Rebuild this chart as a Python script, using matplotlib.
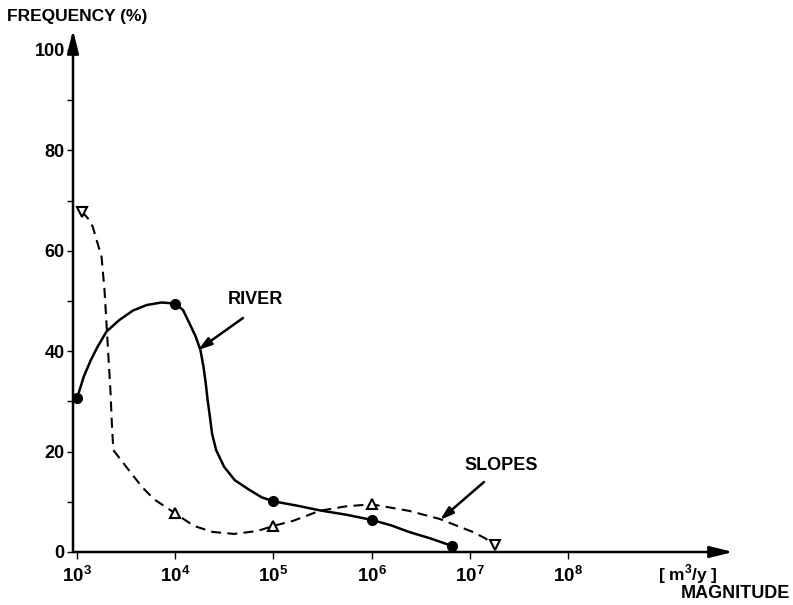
import matplotlib
matplotlib.use("Agg")
import matplotlib.pyplot as plt
import numpy as np

plt.rcParams['font.family'] = ['Liberation Sans', 'DejaVu Sans']
plt.rcParams['mathtext.fontset'] = 'custom'
plt.rcParams['mathtext.rm'] = 'Liberation Sans'
plt.rcParams['mathtext.bf'] = 'Liberation Sans:bold'

# marker values (magnitude m3/y, frequency %)
river_x = [1e3, 1e4, 1e5, 1e6, 6.6e6]
river_y = [30.6, 49.5, 10.1, 6.4, 1.2]
slopes_x = [1.12e3, 1e4, 1e5, 1e6, 1.8e7]
slopes_y = [67.8, 7.7, 5.2, 9.5, 1.4]
slopes_marker = ['v', '^', '^', '^', 'v']

# traced curve paths (log10 magnitude, frequency %)
river_curve_logx = [3.0, 3.068, 3.14, 3.21, 3.30, 3.43, 3.57, 3.71, 3.86, 4.0,
                    4.08, 4.144, 4.209, 4.257, 4.288, 4.311, 4.33, 4.353, 4.375,
                    4.417, 4.497, 4.607, 4.753, 4.88, 5.0, 5.25, 5.47, 5.75,
                    6.0, 6.2, 6.38, 6.6, 6.82]
river_curve_y = [30.6, 34.9, 38.2, 40.9, 43.9, 46.2, 48.1, 49.2, 49.7, 49.5,
                 48.2, 45.6, 42.9, 40.2, 36.9, 33.6, 30.3, 27.0, 23.6,
                 20.3, 17.0, 14.3, 12.4, 10.9, 10.1, 9.2, 8.3, 7.4,
                 6.4, 5.3, 4.0, 2.7, 1.2]
slopes_curve_logx = [3.05, 3.11, 3.16, 3.25, 3.28, 3.30, 3.32, 3.34, 3.355, 3.37,
                     3.50, 3.66, 3.785, 4.0, 4.19, 4.38, 4.6, 4.84, 5.0, 5.2,
                     5.47, 5.74, 6.0, 6.38, 6.69, 7.03, 7.15, 7.26]
slopes_curve_y = [67.8, 66.5, 64.8, 58.8, 52.2, 45.6, 38.9, 32.3, 25.6, 20.3,
                  17.0, 13.0, 10.5, 7.7, 5.2, 4.0, 3.6, 4.2, 5.2, 6.2,
                  8.2, 9.1, 9.5, 8.2, 6.6, 4.0, 2.8, 1.4]

y_major = [0, 20, 40, 60, 80, 100]
y_minor = [10, 30, 50, 70, 90]
x_ticks = [1e3, 1e4, 1e5, 1e6, 1e7, 1e8]
x_labels = [r'$\mathbf{10^{3}}$', r'$\mathbf{10^{4}}$', r'$\mathbf{10^{5}}$',
            r'$\mathbf{10^{6}}$', r'$\mathbf{10^{7}}$', r'$\mathbf{10^{8}}$']

W, H = 793, 605
fig = plt.figure(figsize=(W / 100, H / 100), dpi=100)
ax_l, ax_r, ax_t, ax_b = 73, 733, 30, 552
ax = fig.add_axes([ax_l / W, 1 - ax_b / H, (ax_r - ax_l) / W, (ax_b - ax_t) / H])
ax.set_xscale('log')
ppd = 98.2
ax.set_xlim(10 ** (3 - (77 - ax_l) / ppd), 10 ** (3 + (ax_r - 77) / ppd))
ax.set_ylim(0, (ax_b - ax_t) / 5.02)
for s in ax.spines.values():
    s.set_visible(False)

# axes with arrows
ax.annotate('', xy=(1, 0), xytext=(0, 0), xycoords='axes fraction',
            arrowprops=dict(arrowstyle='-|>,head_length=1.4,head_width=0.35',
                            lw=1.8, color='black', shrinkA=0, shrinkB=0))
ax.annotate('', xy=(0, 1), xytext=(0, 0), xycoords='axes fraction',
            arrowprops=dict(arrowstyle='-|>,head_length=1.4,head_width=0.35',
                            lw=1.8, color='black', shrinkA=0, shrinkB=0))

ax.set_yticks(y_major)
ax.set_yticklabels([str(v) for v in y_major], fontsize=13, fontweight='bold')
ax.set_yticks(y_minor, minor=True)
ax.tick_params(axis='y', which='both', direction='out', length=4, width=1, pad=2)
ax.set_xticks(x_ticks)
ax.set_xticklabels(x_labels, fontsize=13.5)
ax.xaxis.set_minor_locator(matplotlib.ticker.NullLocator())
ax.tick_params(axis='x', which='major', direction='out', length=5, width=1, pad=5)

# curves
ax.plot(10 ** np.array(river_curve_logx), river_curve_y, color='black', lw=1.8,
        solid_capstyle='round', solid_joinstyle='round')
ax.plot(10 ** np.array(slopes_curve_logx), slopes_curve_y, color='black', lw=1.5,
        dashes=(4.8, 3.0))
ax.plot(river_x, river_y, 'o', color='black', ms=7, clip_on=False)
for x, y, m in zip(slopes_x, slopes_y, slopes_marker):
    ax.plot([x], [y], m, mfc='white', mec='black', mew=1.5, ms=7, clip_on=False)

def px2data(px, py):
    return 10 ** (3 + (px - 77) / ppd), (ax_b - py) / 5.02

# labels with arrows
tx, ty = px2data(255, 300)
ax.text(tx, ty, 'RIVER', fontsize=13, fontweight='bold', ha='center', va='center')
ax.annotate('', xy=px2data(198, 350), xytext=px2data(243, 318),
            arrowprops=dict(arrowstyle='-|>,head_length=0.8,head_width=0.25',
                            lw=1.8, color='black', shrinkA=0, shrinkB=0))
tx, ty = px2data(501, 466)
ax.text(tx, ty, 'SLOPES', fontsize=13, fontweight='bold', ha='center', va='center')
ax.annotate('', xy=px2data(440, 520), xytext=px2data(484, 482),
            arrowprops=dict(arrowstyle='-|>,head_length=0.8,head_width=0.25',
                            lw=1.8, color='black', shrinkA=0, shrinkB=0))

fig.text(7 / W, 1 - 16 / H, 'FREQUENCY (%)', fontsize=12.5, fontweight='bold',
         ha='left', va='center')
fig.text(688 / W, 1 - 580 / H, r'[ m$^{\mathbf{3}}$/y ]', fontsize=12.5,
         fontweight='bold', ha='center', va='baseline')
fig.text(790 / W, 1 - 598 / H, 'MAGNITUDE', fontsize=13, fontweight='bold',
         ha='right', va='baseline')

fig.savefig('out.png', dpi=100)
